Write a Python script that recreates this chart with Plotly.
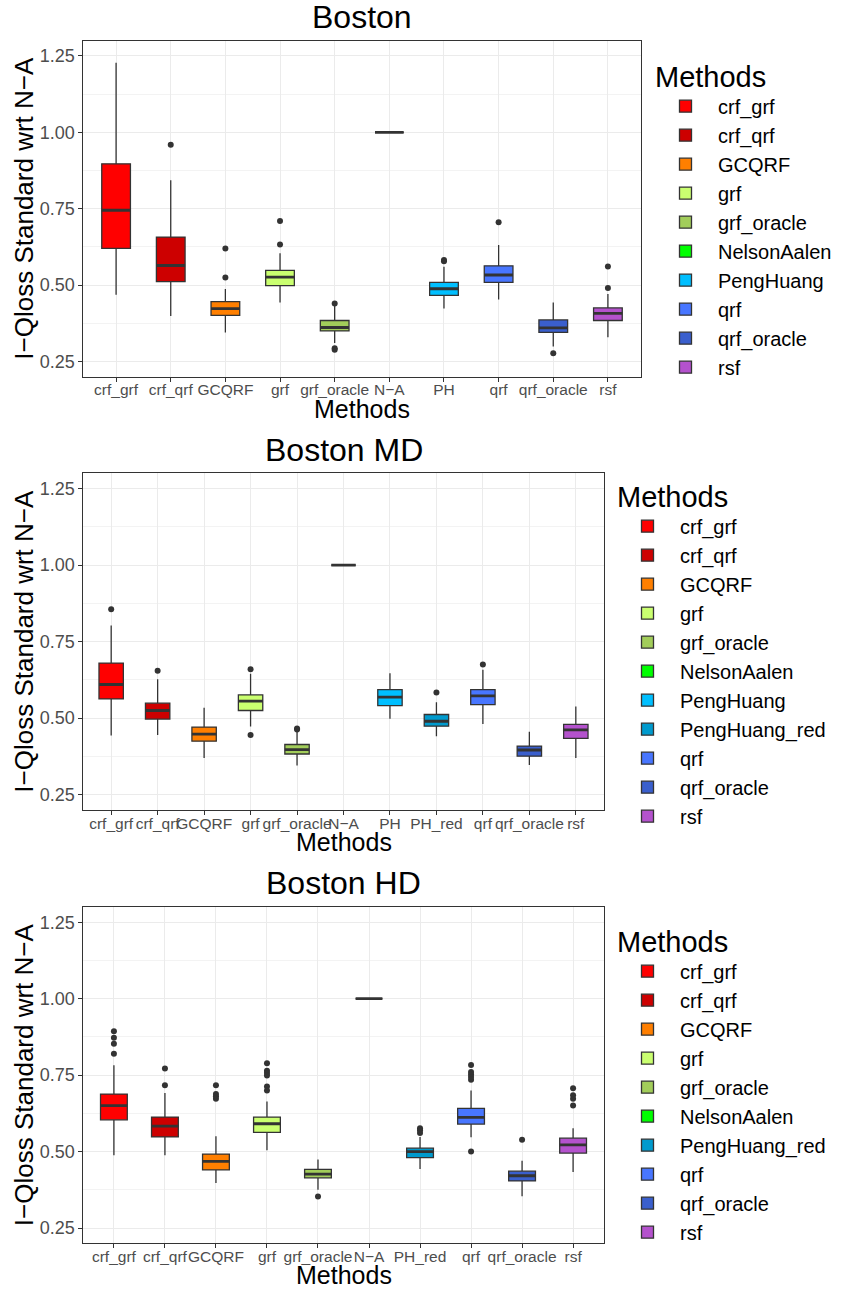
import plotly.graph_objects as go

FONT = "Liberation Sans, Arial, Helvetica, sans-serif"
EDGE = "#333333"

COLORS = {
    "crf_grf": "#FF0000",
    "crf_qrf": "#CD0000",
    "GCQRF": "#FF7F00",
    "grf": "#CAFF70",
    "grf_oracle": "#A2CD5A",
    "NelsonAalen": "#00FF00",
    "PengHuang": "#00BFFF",
    "PengHuang_red": "#009ACD",
    "qrf": "#4876FF",
    "qrf_oracle": "#3A5FCD",
    "rsf": "#B452CD",
}

# ---------------- Panel 1: Boston ----------------
p1_title = "Boston"
p1_ticks = ["crf_grf", "crf_qrf", "GCQRF", "grf", "grf_oracle", "N−A", "PH", "qrf", "qrf_oracle", "rsf"]
p1_names = ["crf_grf", "crf_qrf", "GCQRF", "grf", "grf_oracle", "NelsonAalen", "PengHuang", "qrf", "qrf_oracle", "rsf"]
p1_lo = [0.468, 0.399, 0.345, 0.443, 0.310, 1.0, 0.423, 0.453, 0.299, 0.329]
p1_q1 = [0.620, 0.511, 0.401, 0.498, 0.350, 1.0, 0.466, 0.509, 0.345, 0.384]
p1_med = [0.745, 0.564, 0.423, 0.526, 0.361, 1.0, 0.488, 0.533, 0.360, 0.407]
p1_q3 = [0.897, 0.657, 0.446, 0.548, 0.384, 1.0, 0.509, 0.563, 0.386, 0.425]
p1_hi = [1.228, 0.843, 0.487, 0.604, 0.432, 1.0, 0.560, 0.631, 0.443, 0.471]
p1_out = [[], [0.959], [0.620, 0.525], [0.710, 0.633], [0.440, 0.293, 0.288], [],
          [0.582, 0.578], [0.706], [0.277], [0.561, 0.490]]

# ---------------- Panel 2: Boston MD ----------------
p2_title = "Boston MD"
p2_ticks = ["crf_grf", "crf_qrf", "GCQRF", "grf", "grf_oracle", "N−A", "PH", "PH_red", "qrf", "qrf_oracle", "rsf"]
p2_names = ["crf_grf", "crf_qrf", "GCQRF", "grf", "grf_oracle", "NelsonAalen", "PengHuang", "PengHuang_red", "qrf", "qrf_oracle", "rsf"]
p2_lo = [0.443, 0.445, 0.370, 0.473, 0.345, 1.0, 0.498, 0.441, 0.481, 0.347, 0.370]
p2_q1 = [0.563, 0.497, 0.425, 0.525, 0.383, 1.0, 0.541, 0.474, 0.544, 0.376, 0.434]
p2_med = [0.610, 0.525, 0.448, 0.556, 0.397, 1.0, 0.569, 0.490, 0.573, 0.396, 0.462]
p2_q3 = [0.680, 0.549, 0.471, 0.576, 0.414, 1.0, 0.593, 0.512, 0.593, 0.409, 0.480]
p2_hi = [0.803, 0.627, 0.534, 0.645, 0.455, 1.0, 0.647, 0.552, 0.658, 0.456, 0.538]
p2_out = [[0.856], [0.655], [], [0.660, 0.445], [0.466, 0.463], [], [], [0.584], [0.675], [], []]

# ---------------- Panel 3: Boston HD ----------------
p3_title = "Boston HD"
p3_ticks = ["crf_grf", "crf_qrf", "GCQRF", "grf", "grf_oracle", "N−A", "PH_red", "qrf", "qrf_oracle", "rsf"]
p3_names = ["crf_grf", "crf_qrf", "GCQRF", "grf", "grf_oracle", "NelsonAalen", "PengHuang_red", "qrf", "qrf_oracle", "rsf"]
p3_lo = [0.488, 0.488, 0.397, 0.504, 0.375, 1.0, 0.443, 0.547, 0.354, 0.433]
p3_q1 = [0.604, 0.548, 0.440, 0.563, 0.414, 1.0, 0.480, 0.590, 0.404, 0.495]
p3_med = [0.650, 0.583, 0.468, 0.591, 0.426, 1.0, 0.500, 0.612, 0.421, 0.522]
p3_q3 = [0.688, 0.613, 0.492, 0.613, 0.442, 1.0, 0.511, 0.641, 0.436, 0.544]
p3_hi = [0.782, 0.692, 0.550, 0.664, 0.474, 1.0, 0.548, 0.700, 0.470, 0.576]
p3_out = [[0.894, 0.872, 0.853, 0.820], [0.772, 0.717], [0.717, 0.688, 0.681, 0.673],
          [0.789, 0.764, 0.757, 0.749, 0.713, 0.700], [0.353], [],
          [0.576, 0.570, 0.561], [0.783, 0.760, 0.752, 0.744, 0.735, 0.500], [0.539],
          [0.707, 0.684, 0.673, 0.651]]

Y_TICKS = [0.25, 0.50, 0.75, 1.00, 1.25]
Y_TICKTEXT = ["0.25", "0.50", "0.75", "1.00", "1.25"]
Y_TITLE = "I−Qloss Standard wrt N−A"
X_TITLE = "Methods"
LEGEND_TITLE = "Methods"

W, H = 863, 1291

panels = [
    dict(title=p1_title, ticks=p1_ticks, names=p1_names, lo=p1_lo, q1=p1_q1, med=p1_med,
         q3=p1_q3, hi=p1_hi, out=p1_out, px=(83.3, 640.7), py=(40.7, 376.7),
         title_y=17, xt_y=409, leg=(653, 49)),
    dict(title=p2_title, ticks=p2_ticks, names=p2_names, lo=p2_lo, q1=p2_q1, med=p2_med,
         q3=p2_q3, hi=p2_hi, out=p2_out, px=(83.3, 603.7), py=(473.3, 810.0),
         title_y=450, xt_y=842, leg=(615, 469)),
    dict(title=p3_title, ticks=p3_ticks, names=p3_names, lo=p3_lo, q1=p3_q1, med=p3_med,
         q3=p3_q3, hi=p3_hi, out=p3_out, px=(83.3, 603.7), py=(907.0, 1243.3),
         title_y=883, xt_y=1275, leg=(615, 914)),
]

fig = go.Figure()
layout = dict(
    width=W, height=H,
    margin=dict(l=0, r=0, t=0, b=0),
    paper_bgcolor="white", plot_bgcolor="white",
    boxmode="overlay", boxgap=0.25,
    font=dict(family=FONT, color="black"),
    annotations=[],
)

for k, p in enumerate(panels, start=1):
    xa = "x" if k == 1 else f"x{k}"
    ya = "y" if k == 1 else f"y{k}"
    lg = "legend" if k == 1 else f"legend{k}"
    for i, (t, n) in enumerate(zip(p["ticks"], p["names"])):
        fig.add_trace(go.Box(
            x=[t], q1=[p["q1"][i]], median=[p["med"][i]], q3=[p["q3"][i]],
            lowerfence=[p["lo"][i]], upperfence=[p["hi"][i]],
            name=n, fillcolor=COLORS[n], line=dict(color=EDGE, width=1.3),
            whiskerwidth=0, boxpoints=False, xaxis=xa, yaxis=ya, legend=lg,
            hoverinfo="skip",
        ))
        # thicker median line (ggplot fatten)
        fig.add_trace(go.Box(
            x=[t], q1=[p["med"][i]], median=[p["med"][i]], q3=[p["med"][i]],
            lowerfence=[p["med"][i]], upperfence=[p["med"][i]],
            name=n, fillcolor="rgba(0,0,0,0)", line=dict(color=EDGE, width=2.8),
            whiskerwidth=0, boxpoints=False, xaxis=xa, yaxis=ya, showlegend=False,
            hoverinfo="skip",
        ))
        if p["out"][i]:
            fig.add_trace(go.Scatter(
                x=[t] * len(p["out"][i]), y=p["out"][i], mode="markers",
                marker=dict(color=EDGE, size=6), xaxis=xa, yaxis=ya,
                showlegend=False, hoverinfo="skip",
            ))

    x0, x1 = p["px"][0] / W, p["px"][1] / W
    y0, y1 = 1 - p["py"][1] / H, 1 - p["py"][0] / H
    xkey = "xaxis" if k == 1 else f"xaxis{k}"
    ykey = "yaxis" if k == 1 else f"yaxis{k}"
    layout[xkey] = dict(
        domain=[x0, x1], anchor=ya, type="category",
        categoryorder="array", categoryarray=p["ticks"],
        range=[-0.6, len(p["ticks"]) - 0.4],
        showgrid=True, gridcolor="#EBEBEB", gridwidth=1,
        showline=True, linecolor=EDGE, linewidth=1, mirror=True,
        ticks="outside", ticklen=4, tickcolor=EDGE, tickwidth=1,
        tickangle=0, ticklabelstandoff=-5,
        tickfont=dict(family=FONT, size=15.5, color="#4D4D4D"),
        automargin=False, zeroline=False, fixedrange=True,
    )
    layout[ykey] = dict(
        domain=[y0, y1], anchor=xa, range=[0.2, 1.3],
        tickvals=Y_TICKS, ticktext=Y_TICKTEXT,
        showgrid=True, gridcolor="#EBEBEB", gridwidth=1,
        minor=dict(dtick=0.125, tick0=0.0, showgrid=True, gridcolor="#F3F3F3", gridwidth=0.6, ticks=""),
        showline=True, linecolor=EDGE, linewidth=1, mirror=True,
        ticks="outside", ticklen=4, tickcolor=EDGE, tickwidth=1,
        tickfont=dict(family=FONT, size=18, color="#4D4D4D"),
        automargin=False, zeroline=False, fixedrange=True,
    )
    cx = (p["px"][0] + p["px"][1]) / 2 / W
    layout["annotations"] += [
        dict(text=p["title"], x=cx, y=1 - p["title_y"] / H, xref="paper", yref="paper",
             xanchor="center", yanchor="middle", showarrow=False,
             font=dict(family=FONT, size=32, color="black")),
        dict(text=X_TITLE, x=cx, y=1 - p["xt_y"] / H, xref="paper", yref="paper",
             xanchor="center", yanchor="middle", showarrow=False,
             font=dict(family=FONT, size=25, color="black")),
        dict(text=Y_TITLE, x=24 / W, y=1 - (p["py"][0] + p["py"][1]) / 2 / H,
             xref="paper", yref="paper", xanchor="center", yanchor="middle",
             textangle=-90, showarrow=False,
             font=dict(family=FONT, size=26, color="black")),
    ]
    layout[lg] = dict(
        x=p["leg"][0] / W, y=1 - p["leg"][1] / H, xanchor="left", yanchor="top",
        xref="paper", yref="paper",
        title=dict(text=LEGEND_TITLE, font=dict(family=FONT, size=29, color="black")),
        font=dict(family=FONT, size=20, color="black"),
        bgcolor="rgba(0,0,0,0)", borderwidth=0, itemwidth=55,
        tracegroupgap=0,
    )

fig.update_layout(**layout)
fig.write_html("out.html")
